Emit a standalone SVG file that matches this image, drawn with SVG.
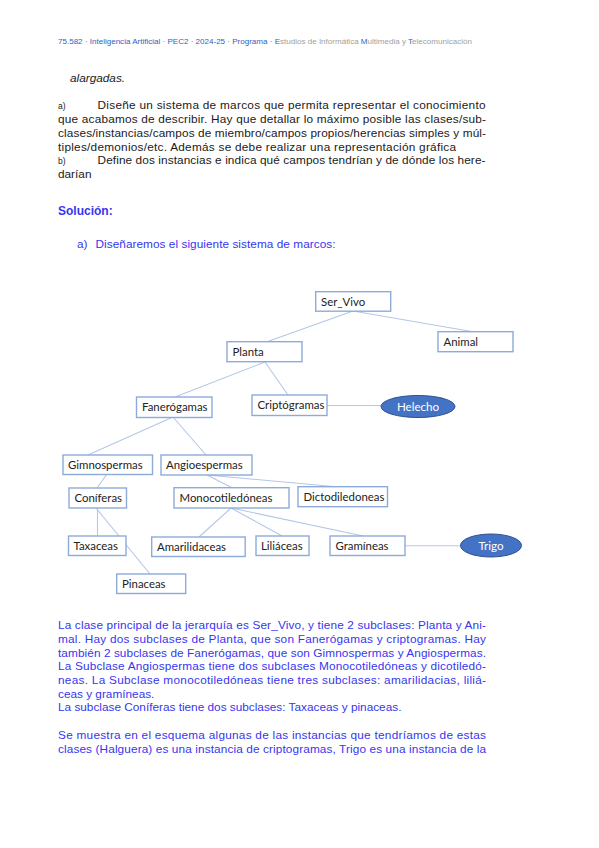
<svg xmlns="http://www.w3.org/2000/svg" width="599" height="848" viewBox="0 0 599 848">
<style>
.bg{fill:#ffffff}
.hd{font-family:"Liberation Sans",Arial,sans-serif;font-size:7.4px;fill:#2f5fbf}
.hg{fill:#a0a0a0}
.tx{font-family:"Liberation Sans",Arial,sans-serif;font-size:11.8px;fill:#1a1a1a}
.sm{font-size:8.5px}
.bl{font-family:"Liberation Sans",Arial,sans-serif;font-size:11.8px;fill:#3636f0}
.bb{font-weight:bold;font-size:12px}
.box{fill:#ffffff;stroke:#8eaadb;stroke-width:1.4}
.lbl{font-family:Lato,"Open Sans",sans-serif;font-size:11.4px;fill:#222222}
.inst{fill:#4472c4;stroke:#2f528f;stroke-width:1}
.ilbl{font-family:Lato,"Open Sans",sans-serif;font-size:11.6px;fill:#ffffff;text-anchor:middle}
.con{stroke:#b4c7e7;stroke-width:1.1;fill:none}
</style>
<rect class="bg" x="0" y="0" width="599" height="848"/>

<text class="hd" x="58" y="44" textLength="414" lengthAdjust="spacingAndGlyphs">75.582 · Inteligencia Artificial · PEC2 · 2024-25 · Programa · E<tspan class="hg">studios de Informática </tspan>M<tspan class="hg">ultimedia y </tspan>T<tspan class="hg">elecomunicación</tspan></text>

<text class="tx" x="70" y="82" font-style="italic">alargadas.</text>
<text class="tx" y="109"><tspan class="sm" x="58">a)</tspan><tspan x="97.5" textLength="388" lengthAdjust="spacing">Diseñe un sistema de marcos que permita representar el conocimiento</tspan></text>
<text class="tx" x="58" y="123" textLength="428" lengthAdjust="spacing">que acabamos de describir. Hay que detallar lo máximo posible las clases/sub-</text>
<text class="tx" x="58" y="137" textLength="428" lengthAdjust="spacing">clases/instancias/campos de miembro/campos propios/herencias simples y múl-</text>
<text class="tx" x="58" y="151" textLength="398" lengthAdjust="spacing">tiples/demonios/etc. Además se debe realizar una representación gráfica</text>
<text class="tx" y="164"><tspan class="sm" x="58">b)</tspan><tspan x="97.5" textLength="388" lengthAdjust="spacing">Define dos instancias e indica qué campos tendrían y de dónde los here-</tspan></text>
<text class="tx" x="58" y="178">darían</text>

<text class="bl bb" x="58" y="215">Solución:</text>
<text class="bl" y="248"><tspan x="77">a)</tspan><tspan x="95.5" textLength="240" lengthAdjust="spacing">Diseñaremos el siguiente sistema de marcos:</tspan></text>

<g id="connectors">
<line class="con" x1="353" y1="311" x2="267" y2="341.7"/>
<line class="con" x1="353" y1="311" x2="473" y2="331.7"/>
<line class="con" x1="265" y1="362" x2="175" y2="397"/>
<line class="con" x1="265" y1="362" x2="288" y2="395"/>
<line class="con" x1="327" y1="405.5" x2="381" y2="405.5"/>
<line class="con" x1="173" y1="417" x2="88" y2="455"/>
<line class="con" x1="173" y1="417" x2="206" y2="455"/>
<line class="con" x1="107" y1="474" x2="97" y2="488"/>
<line class="con" x1="207" y1="475" x2="232" y2="487.7"/>
<line class="con" x1="207" y1="475" x2="336" y2="486.7"/>
<line class="con" x1="97.5" y1="508" x2="97.5" y2="536"/>
<line class="con" x1="96" y1="508" x2="150" y2="574"/>
<line class="con" x1="231" y1="508" x2="199" y2="537"/>
<line class="con" x1="231" y1="508" x2="282" y2="536"/>
<line class="con" x1="231" y1="508" x2="363" y2="536"/>
<line class="con" x1="405" y1="545.7" x2="461" y2="545.7"/>
</g>

<g id="n-servivo"><rect class="box" x="315.7" y="291.7" width="75" height="19.5"/><text class="lbl" x="321" y="305.5">Ser_Vivo</text></g>
<g id="n-animal"><rect class="box" x="438" y="331.7" width="75" height="20"/><text class="lbl" x="443.5" y="345.7">Animal</text></g>
<g id="n-planta"><rect class="box" x="227" y="341.7" width="75" height="20"/><text class="lbl" x="232.5" y="355.7">Planta</text></g>
<g id="n-fanerogamas"><rect class="box" x="136.5" y="397" width="75.5" height="20.5"/><text class="lbl" x="142" y="411.3">Fanerógamas</text></g>
<g id="n-criptogramas"><rect class="box" x="252" y="395" width="75" height="20.5"/><text class="lbl" x="257.5" y="409.3">Criptógramas</text></g>
<g id="n-helecho"><ellipse class="inst" cx="418" cy="406.5" rx="37" ry="11"/><text class="ilbl" x="418" y="410.5">Helecho</text></g>
<g id="n-gimnospermas"><rect class="box" x="63" y="455" width="89.5" height="19.5"/><text class="lbl" x="68" y="468.7">Gimnospermas</text></g>
<g id="n-angioespermas"><rect class="box" x="161" y="455" width="91" height="20"/><text class="lbl" x="166" y="469">Angioespermas</text></g>
<g id="n-coniferas"><rect class="box" x="69" y="488" width="57.5" height="20"/><text class="lbl" x="74.5" y="502">Coníferas</text></g>
<g id="n-monocot"><rect class="box" x="174" y="487.7" width="115" height="20.3"/><text class="lbl" x="179.5" y="501.8">Monocotiledóneas</text></g>
<g id="n-dicot"><rect class="box" x="298" y="486.7" width="89.5" height="20"/><text class="lbl" x="303.5" y="500.7">Dictodiledoneas</text></g>
<g id="n-taxaceas"><rect class="box" x="68.5" y="536" width="57.5" height="19.5"/><text class="lbl" x="73.5" y="549.8">Taxaceas</text></g>
<g id="n-amarilidaceas"><rect class="box" x="151.7" y="537" width="93.5" height="19.5"/><text class="lbl" x="157" y="550.8">Amarilidaceas</text></g>
<g id="n-liliaceas"><rect class="box" x="256" y="536" width="53" height="19.5"/><text class="lbl" x="261" y="549.8">Liliáceas</text></g>
<g id="n-gramineas"><rect class="box" x="330" y="536" width="75" height="19.5"/><text class="lbl" x="335.5" y="549.8">Gramíneas</text></g>
<g id="n-trigo"><ellipse class="inst" cx="491" cy="545.5" rx="30.5" ry="11.5"/><text class="ilbl" x="491" y="549.5">Trigo</text></g>
<g id="n-pinaceas"><rect class="box" x="116.7" y="574" width="69" height="19.5"/><text class="lbl" x="122" y="587.8">Pinaceas</text></g>

<text class="bl" x="58" y="628.5" textLength="428" lengthAdjust="spacing">La clase principal de la jerarquía es Ser_Vivo, y tiene 2 subclases: Planta y Ani-</text>
<text class="bl" x="58" y="642.5" textLength="428" lengthAdjust="spacing">mal. Hay dos subclases de Planta, que son Fanerógamas y criptogramas. Hay</text>
<text class="bl" x="58" y="656.5" textLength="428" lengthAdjust="spacing">también 2 subclases de Fanerógamas, que son Gimnospermas y Angiospermas.</text>
<text class="bl" x="58" y="670" textLength="428" lengthAdjust="spacing">La Subclase Angiospermas tiene dos subclases Monocotiledóneas y dicotiledó-</text>
<text class="bl" x="58" y="684" textLength="428" lengthAdjust="spacing">neas. La Subclase monocotiledóneas tiene tres subclases: amarilidacias, liliá-</text>
<text class="bl" x="58" y="697.5">ceas y gramíneas.</text>
<text class="bl" x="58" y="711">La subclase Coníferas tiene dos subclases: Taxaceas y pinaceas.</text>

<text class="bl" x="58" y="739" textLength="428" lengthAdjust="spacing">Se muestra en el esquema algunas de las instancias que tendríamos de estas</text>
<text class="bl" x="58" y="753" textLength="428" lengthAdjust="spacing">clases (Halguera) es una instancia de criptogramas, Trigo es una instancia de la</text>
</svg>
